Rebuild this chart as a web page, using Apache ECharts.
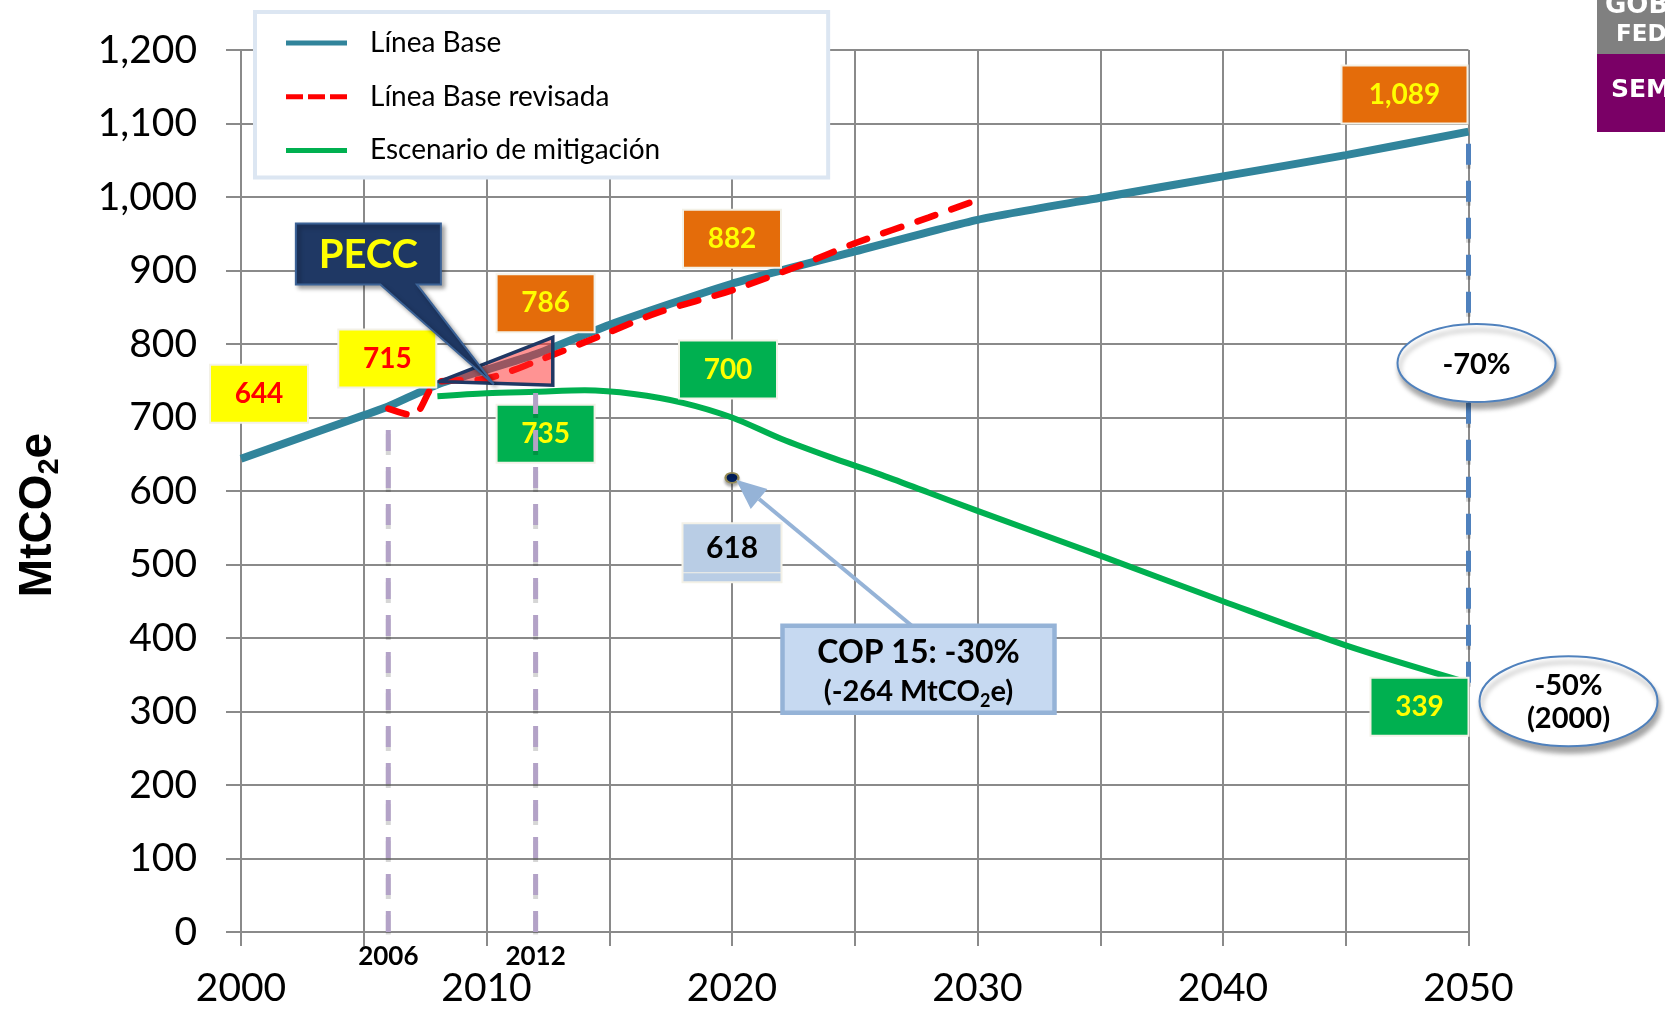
<!DOCTYPE html>
<html>
<head>
<meta charset="utf-8">
<script src="https://cdn.jsdelivr.net/npm/echarts@6/dist/echarts.min.js"></script>
<style>
  html, body { margin: 0; padding: 0; background: #ffffff; }
  #chart { width: 1665px; height: 1011px; }
</style>
</head>
<body>
<div id="chart"></div>
<script>
// Emission trajectories for Mexico, MtCO2e
const baseYears = [2000, 2005, 2006, 2008, 2010, 2012, 2015, 2020, 2025, 2030, 2035, 2040, 2045, 2050];
const baseValues = [644, 703, 715, 745, 765, 786, 826, 882, 926, 969, 999, 1028, 1057, 1089];

const revisedYears = [2006, 2007, 2008, 2010, 2012, 2015, 2017, 2020, 2023, 2025, 2028, 2030];
const revisedValues = [712, 703, 748, 753, 776, 816, 843, 873, 910, 937, 972, 996];

const mitigationYears = [2008, 2010, 2012, 2014, 2016, 2018, 2020, 2022, 2024, 2026, 2028, 2030, 2035, 2040, 2045, 2050];
const mitigationValues = [729, 733, 735, 737, 732, 720, 700, 671, 646, 623, 598, 573, 512, 450, 390, 339];

// COP 15 target for 2020
const copYear = 2020;
const copTarget = 618;

// reference years marked with dashed verticals
const markerYears = [2006, 2012];
const markerTops = [693, 743];

// PECC wedge (2008-2012 programme)
const peccYears = [2008.1, 2012.7, 2012.7];
const peccValues = [749, 809, 744];

// labelled axis years
const xLabelYears = [2000, 2010, 2020, 2030, 2040, 2050];

const pairs = (xs, ys) => xs.map((x, i) => [x, ys[i]]);
const valueAt = (xs, ys, year) => ys[xs.indexOf(year)];
const fmt = v => v.toLocaleString('en-US');

const FONT = 'Lato, "Open Sans", "Liberation Sans", sans-serif';
const GRID_GREY = '#8a8a8a';

const BOX = {
  yellow: { bg: '#FFFF00', fg: '#FF0000' },
  orange: { bg: '#E46C0A', fg: '#FFFF00' },
  green:  { bg: '#00B050', fg: '#FFFF00' }
};

function boxLabel(value, kind, dx, dy, w) {
  return {
    value: value,
    label: {
      show: true,
      position: 'inside',
      offset: [dx, dy],
      formatter: fmt(value[1]),
      width: w || 96,
      height: 56,
      lineHeight: 56,
      align: 'center',
      verticalAlign: 'middle',
      backgroundColor: BOX[kind].bg,
      borderColor: '#F3F1E7',
      borderWidth: 2,
      color: BOX[kind].fg,
      fontFamily: FONT,
      fontSize: 28,
      fontWeight: 'bold'
    }
  };
}

const b = y => [y, valueAt(baseYears, baseValues, y)];
const m = y => [y, valueAt(mitigationYears, mitigationValues, y)];

const valueBoxes = [
  boxLabel(b(2000), 'yellow', 18, -65),
  boxLabel(b(2006), 'yellow', -1, -48),
  boxLabel(b(2012), 'orange', 10, -51),
  boxLabel(b(2020), 'orange', 0, -45),
  boxLabel(b(2050), 'orange', -64, -37, 124),
  boxLabel(m(2012), 'green', 10, 42),
  boxLabel(m(2020), 'green', -4, -48),
  boxLabel(m(2050), 'green', -49, 24)
];

const chart = echarts.init(document.getElementById('chart'), null, { renderer: 'canvas' });

const dashShadow = { shadowColor: 'rgba(0,0,0,0.16)', shadowBlur: 0, shadowOffsetY: 4 };

const series = [
  {
    name: 'Línea Base', type: 'line', data: pairs(baseYears, baseValues),
    symbol: 'none', smooth: 0.2, silent: true, z: 2,
    lineStyle: { color: '#31849B', width: 8 }, itemStyle: { color: '#31849B' }
  },
  {
    name: 'Escenario de mitigación', type: 'line', data: pairs(mitigationYears, mitigationValues),
    symbol: 'none', smooth: 0.3, silent: true, z: 2,
    lineStyle: { color: '#00B050', width: 6 }, itemStyle: { color: '#00B050' }
  },
  {
    name: 'Línea Base revisada', type: 'line', data: pairs(revisedYears, revisedValues),
    symbol: 'none', smooth: 0.3, silent: true, z: 3,
    lineStyle: { color: '#FF0000', width: 6.5, type: [19, 17], cap: 'round' }, itemStyle: { color: '#FF0000' }
  },
  // 2050 reduction span
  {
    type: 'line', silent: true, symbol: 'none', z: 2,
    data: [[2050, mitigationValues[mitigationValues.length - 1]], [2050, baseValues[baseValues.length - 1]]],
    lineStyle: Object.assign({ color: '#4F81BD', width: 5, type: [21, 16] }, dashShadow)
  },
  // PECC wedge
  {
    type: 'custom', silent: true, z: 4,
    data: pairs(peccYears, peccValues),
    renderItem: function (params, api) {
      if (params.dataIndex !== 0) return null;
      const pts = peccYears.map((x, i) => api.coord([x, peccValues[i]]));
      return {
        type: 'polygon',
        shape: { points: pts },
        style: { fill: 'rgba(255,40,40,0.5)', stroke: '#1F3864', lineWidth: 3.5, lineJoin: 'miter' }
      };
    }
  },
  // value boxes
  {
    type: 'scatter', silent: true, z: 5, symbolSize: 1,
    itemStyle: { color: 'rgba(0,0,0,0)', opacity: 1 },
    data: valueBoxes
  },
  // COP 15 target point
  {
    type: 'scatter', silent: true, z: 5,
    symbol: 'circle', symbolSize: [13, 10],
    itemStyle: { color: '#002060', opacity: 1, borderColor: '#948A54', borderWidth: 2,
      shadowColor: 'rgba(0,0,0,0.3)', shadowBlur: 3, shadowOffsetY: 3 },
    data: [{
      value: [copYear, copTarget],
      label: {
        show: true, position: 'inside', offset: [0, 75],
        formatter: '{v|' + fmt(copTarget) + '}\n{s|}',
        backgroundColor: '#B9CDE5', borderColor: '#F3F1E7', borderWidth: 2, padding: 0,
        rich: {
          v: { width: 97, height: 49, lineHeight: 49, align: 'center', fontFamily: FONT,
               fontSize: 30, fontWeight: 'bold', color: '#000000' },
          s: { width: 97, height: 8, backgroundColor: '#B9CDE5', borderColor: '#F3F1E7', borderWidth: 1 }
        }
      }
    }]
  }
];

markerYears.forEach((yr, i) => {
  series.push({
    type: 'line', silent: true, symbol: 'none', z: 6,
    data: [[yr, 0], [yr, markerTops[i]]],
    lineStyle: Object.assign({ color: '#B3A2C7', width: 5, type: [21, 16] }, dashShadow)
  });
});

const solidIcon = 'path://M0,0H61V5H0Z';
const dashIcon = 'path://M0,0H17V5H0Z M22,0H39V5H22Z M44,0H61V5H44Z';

chart.setOption({
  animation: false,
  backgroundColor: '#ffffff',
  grid: { left: 241, right: 196.5, top: 50, bottom: 79, containLabel: false },
  legend: {
    show: true, left: 255, top: 12, orient: 'vertical',
    itemWidth: 61, itemHeight: 5, itemGap: 25.7,
    padding: [17, 168, 13, 31],
    backgroundColor: '#ffffff', borderColor: '#DCE6F2', borderWidth: 4,
    selectedMode: false,
    textStyle: { fontFamily: FONT, fontSize: 28, color: '#000000', padding: [0, 0, 0, 18] },
    data: [
      { name: 'Línea Base', icon: solidIcon },
      { name: 'Línea Base revisada', icon: dashIcon },
      { name: 'Escenario de mitigación', icon: solidIcon }
    ]
  },
  xAxis: [
    {
      type: 'value', min: 2000, max: 2050, interval: 5,
      axisLine: { show: true, lineStyle: { color: GRID_GREY, width: 2 } },
      axisTick: { show: true, length: 14, lineStyle: { color: GRID_GREY, width: 2 } },
      splitLine: { show: true, lineStyle: { color: GRID_GREY, width: 2 } },
      axisLabel: {
        margin: 37, fontFamily: FONT, fontSize: 39, color: '#000000',
        formatter: v => xLabelYears.includes(v) ? String(v) : ''
      }
    },
    {
      type: 'value', min: 2000, max: 2050, interval: 1, position: 'bottom',
      axisLine: { show: false }, axisTick: { show: false }, splitLine: { show: false },
      axisLabel: {
        margin: 12, fontFamily: FONT, fontSize: 26, fontWeight: 'bold', color: '#000000',
        formatter: v => markerYears.includes(v) ? String(v) : ''
      }
    }
  ],
  yAxis: {
    type: 'value', min: 0, max: 1200, interval: 100,
    axisLine: { show: true, lineStyle: { color: GRID_GREY, width: 2 } },
    axisTick: { show: true, length: 15, lineStyle: { color: GRID_GREY, width: 2 } },
    splitLine: { show: true, lineStyle: { color: GRID_GREY, width: 2 } },
    axisLabel: { margin: 44, fontFamily: FONT, fontSize: 39, color: '#000000', formatter: v => fmt(v) }
  },
  series: series
});

// annotations placed relative to the axes
function P(x, y) { return chart.convertToPixel({ xAxisIndex: 0, yAxisIndex: 0 }, [x, y]); }

const g = [];

// PECC callout
(function () {
  const t = P(2010.3, 745);
  const L = t[0] - 198, R = t[0] - 53, T = t[1] - 161, B = t[1] - 100;
  g.push({
    type: 'polygon', z: 20, silent: true,
    shape: { points: [[L, T], [R, T], [R, B], [t[0] - 77, B], [t[0], t[1]], [t[0] - 113.5, B], [L, B]] },
    style: { fill: '#1F3864', stroke: '#3B6296', lineWidth: 2,
      shadowColor: 'rgba(0,0,0,0.35)', shadowBlur: 4, shadowOffsetX: 3, shadowOffsetY: 3 }
  });
  g.push({
    type: 'text', z: 21, silent: true, x: (L + R) / 2, y: (T + B) / 2 + 1,
    style: { text: 'PECC', fill: '#FFFF00', font: 'bold 40px ' + FONT, align: 'center', verticalAlign: 'middle' }
  });
})();

// COP 15 box and arrow
(function () {
  const d = P(copYear, copTarget);
  const start = [d[0] + 181, d[1] + 149];
  const tip = [d[0] + 4, d[1] + 2];
  const dx = tip[0] - start[0], dy = tip[1] - start[1];
  const len = Math.sqrt(dx * dx + dy * dy);
  const u = [dx / len, dy / len], n = [-u[1], u[0]];
  const hb = [tip[0] - u[0] * 30, tip[1] - u[1] * 30];
  g.push({
    type: 'line', z: 20, silent: true,
    shape: { x1: start[0], y1: start[1], x2: hb[0], y2: hb[1] },
    style: { stroke: '#95B3D7', lineWidth: 4 }
  });
  g.push({
    type: 'polygon', z: 20, silent: true,
    shape: { points: [tip, [hb[0] + n[0] * 13, hb[1] + n[1] * 13], [hb[0] - n[0] * 13, hb[1] - n[1] * 13]] },
    style: { fill: '#95B3D7' }
  });
  g.push({
    type: 'rect', z: 21, silent: true,
    shape: { x: d[0] + 50.5, y: d[1] + 148, width: 272, height: 87 },
    style: { fill: '#C6D9F1', stroke: '#95B3D7', lineWidth: 4.5 }
  });
  const reduction = valueAt(baseYears, baseValues, copYear) - copTarget;
  const pct = Math.round(reduction / valueAt(baseYears, baseValues, copYear) * 100);
  g.push({
    type: 'text', z: 22, silent: true, x: d[0] + 186.5, y: d[1] + 175,
    style: { text: 'COP 15: -' + pct + '%', fill: '#000000', font: 'bold 32px ' + FONT,
      align: 'center', verticalAlign: 'middle' }
  });
  g.push({
    type: 'text', z: 22, silent: true, x: d[0] + 186.5, y: d[1] + 214,
    style: {
      text: '{a|(-' + reduction + ' MtCO}{s|2}{a|e)}',
      align: 'center', verticalAlign: 'middle',
      rich: {
        a: { fill: '#000000', font: 'bold 29px ' + FONT, lineHeight: 36 },
        s: { fill: '#000000', font: 'bold 18px ' + FONT, lineHeight: 36, verticalAlign: 'bottom' }
      }
    }
  });
})();

// percentage ellipses at 2050
(function () {
  const e1 = P(2050, 774);
  const e2 = P(2050, mitigationValues[mitigationValues.length - 1]);
  const ell = (cx, cy, rx, ry) => ({
    type: 'ellipse', z: 20, silent: true,
    shape: { cx: cx, cy: cy, rx: rx, ry: ry },
    style: { fill: '#ffffff', stroke: '#4F81BD', lineWidth: 2,
      shadowColor: 'rgba(0,0,0,0.35)', shadowBlur: 5, shadowOffsetX: 2, shadowOffsetY: 6 }
  });
  g.push(ell(e1[0] + 8, e1[1], 79, 39));
  g.push({
    type: 'text', z: 21, silent: true, x: e1[0] + 8, y: e1[1] + 2,
    style: { text: '-70%', fill: '#000000', font: 'bold 29px ' + FONT, align: 'center', verticalAlign: 'middle' }
  });
  g.push(ell(e2[0] + 100, e2[1] + 18.5, 89, 45));
  g.push({
    type: 'text', z: 21, silent: true, x: e2[0] + 100, y: e2[1] + 19,
    style: { text: '-50%\n(2000)', fill: '#000000', font: 'bold 29px ' + FONT, lineHeight: 33,
      align: 'center', verticalAlign: 'middle' }
  });
})();

// y axis title
g.push({
  type: 'text', z: 20, silent: true, x: 38, y: 515, rotation: Math.PI / 2,
  style: {
    text: '{a|MtCO}{s|2}{a|e}', align: 'center', verticalAlign: 'middle',
    rich: {
      a: { fill: '#000000', font: 'bold 46px "Liberation Sans", Arial, sans-serif', lineHeight: 52 },
      s: { fill: '#000000', font: 'bold 29px "Liberation Sans", Arial, sans-serif', lineHeight: 52, verticalAlign: 'bottom' }
    }
  }
});

// agency banner, top-right corner
const LOGO_FONT = '"DejaVu Sans", "Liberation Sans", sans-serif';
g.push({ type: 'rect', z: 20, silent: true, shape: { x: 1597, y: 0, width: 70, height: 54 }, style: { fill: '#808080' } });
g.push({ type: 'rect', z: 20, silent: true, shape: { x: 1597, y: 54, width: 70, height: 78 }, style: { fill: '#7A0066' } });
g.push({ type: 'text', z: 21, silent: true, x: 1605, y: 19,
  style: { text: 'GOBIERNO', fill: '#ffffff', font: 'bold 26px ' + LOGO_FONT, verticalAlign: 'bottom' } });
g.push({ type: 'text', z: 21, silent: true, x: 1616, y: 35,
  style: { text: 'FEDERAL', fill: '#ffffff', font: 'bold 23px ' + LOGO_FONT, verticalAlign: 'middle' } });
g.push({ type: 'text', z: 21, silent: true, x: 1611, y: 90,
  style: { text: 'SEMARNAT', fill: '#ffffff', font: 'bold 25px ' + LOGO_FONT, verticalAlign: 'middle' } });

chart.setOption({ graphic: { elements: g } });
</script>
</body>
</html>
